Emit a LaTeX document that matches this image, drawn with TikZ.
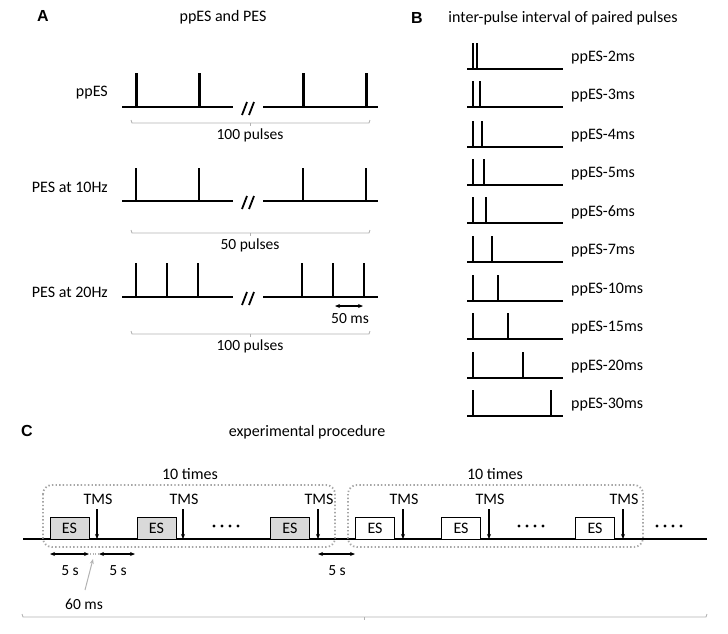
\documentclass[tikz,border=0pt]{standalone}
\usepackage{fontspec}
\setmainfont{Carlito}
\newfontfamily\panelfont{Liberation Sans}
\usepackage{tikz}
\usetikzlibrary{arrows.meta}

\tikzset{
    txt/.style={inner sep=0pt, font=\fontsize{16}{18}\selectfont},
    small/.style={inner sep=0pt, font=\fontsize{15.5}{17}\selectfont},
    panel/.style={inner sep=0pt, font=\panelfont\bfseries\fontsize{16}{18}\selectfont},
    base/.style={line width=1.6pt},
    pulse/.style={line width=1.5pt},
    thick pulse/.style={line width=3pt},
    brace/.style={draw=gray!60, line width=0.9pt},
    group/.style={draw=gray!70, line width=1.8pt, dash pattern=on 1.4pt off 2.2pt, rounded corners=9pt},
    esbox/.style={draw, line width=1pt, minimum width=39pt, minimum height=22pt, inner sep=0pt, font=\fontsize{16}{18}\selectfont},
    tms/.style={-{Stealth[length=5pt, width=4pt]}, line width=1.4pt},
    span/.style={{Stealth[length=5pt, width=4pt]}-{Stealth[length=5pt, width=4pt]}, line width=1.4pt}
}

\begin{document}
\begin{tikzpicture}[x=1pt, y=-1pt]
        \useasboundingbox (0, 0) rectangle (728, 633);

        % panel A
        \node [panel] (lA) at (43, 16) {A};
        \node [txt] (tA) at (223, 17) {ppES and PES};

        \node [txt, anchor=east] (l1) at (108, 93) {ppES};
        \node [txt, anchor=east] (l2) at (108, 187) {PES at 10Hz};
        \node [txt, anchor=east] (l3) at (108, 292) {PES at 20Hz};

        % trains
        \foreach \y/\n in {107/1, 201/2, 297/3} {
            \coordinate (a\n) at (122, \y);
            \coordinate (b\n) at (233, \y);
            \coordinate (c\n) at (263, \y);
            \coordinate (d\n) at (378, \y);
            \draw [base] (a\n) -- (b\n);
            \draw [base] (c\n) -- (d\n);
            \draw [line width=1.8pt] (242, \y+8) -- (247, \y-5);
            \draw [line width=1.8pt] (249, \y+8) -- (254, \y-5);
        }
        \foreach \x in {136, 199, 303, 366}
            \draw [thick pulse] (\x, 107) -- (\x, 73);
        \foreach \x in {136, 199, 303, 366}
            \draw [pulse] (\x, 201) -- (\x, 168);
        \foreach \x in {136, 167, 198, 302, 333, 364}
            \draw [pulse] (\x, 297) -- (\x, 263);

        \draw [span] (335, 306) -- (363, 306);
        \node [small] (ms50) at (350, 319) {50 ms};

        \foreach \y/\t/\n in {123/100 pulses/1, 233/50 pulses/2, 334/100 pulses/3} {
            \draw [brace] (131, \y-3) -- (132, \y) -- (369, \y) -- (370, \y-3);
            \draw [brace] (250, \y) -- (250, \y+3);
            \node [small] (np\n) at (250, \y+12) {\t};
        }

        % panel B
        \node [panel] (lB) at (417, 18) {B};
        \node [txt] (tB) at (563, 18) {inter-pulse interval of paired pulses};

        \foreach \y/\x/\t [count=\i] in {69/477/2, 107/480/3, 147/482/4, 185/484/5,
            223/486/6, 262/492/7, 301/498/10, 339/508/15, 378/523/20, 416/551/30} {
            \coordinate (p\i) at (467, \y);
            \coordinate (q\i) at (563, \y);
            \draw [base] (p\i) -- (q\i);
            \draw [pulse] (473, \y) -- (473, \y-26);
            \draw [pulse] (\x, \y) -- (\x, \y-26);
            \node [txt, anchor=west] (pp\i) at (571, \y-11) {ppES-\t ms};
        }

        % panel C
        \node [panel] (lC) at (27, 431) {C};
        \node [txt] (tC) at (307, 432) {experimental procedure};

        \coordinate (t0) at (23, 539);
        \coordinate (t1) at (707, 539);
        \draw [base] (t0) -- (t1);

        \draw [group] (43, 485) rectangle (335, 547);
        \draw [group] (348, 485) rectangle (643, 547);
        \node [txt] (n1) at (190, 474) {10 times};
        \node [txt] (n2) at (495, 474) {10 times};

        \foreach \x/\t/\f [count=\i] in {69.5/97/gray!30, 156.5/183/gray!30, 290/318/gray!30,
            375/403/white, 461/489/white, 595/623/white} {
            \node [esbox, fill=\f] (es\i) at (\x, 528) {ES};
            \node [txt] (tms\i) at (\t+1, 499) {TMS};
            \coordinate (h\i) at (\t, 539);
            \draw [tms] (\t, 509) -- (h\i);
        }

        \foreach \x in {226, 531, 669} {
            \foreach \d in {-12, -4, 4, 12}
                \fill (\x+\d, 526) circle (1.6pt);
        }

        \draw [span] (50, 554) -- (89, 554);
        \draw [span] (99, 554) -- (135, 554);
        \draw [span] (318, 554) -- (355, 554);
        \draw [gray!60, line width=1.2pt, dash pattern=on 1pt off 1.5pt] (90, 554) -- (98, 554);
        \node [small] (s1) at (70, 571) {5 s};
        \node [small] (s2) at (118, 571) {5 s};
        \node [small] (s3) at (337, 571) {5 s};

        \node [small] (ms60) at (84, 604) {60 ms};
        \draw [gray!60, line width=1pt, -{Stealth[length=5pt, width=4pt]}] (85, 590) -- (93, 559);

        \draw [brace] (22, 614) -- (23, 617) -- (706, 617) -- (707, 614);
        \draw [brace] (364, 617) -- (364, 620);
    \end{tikzpicture}
\end{document}
